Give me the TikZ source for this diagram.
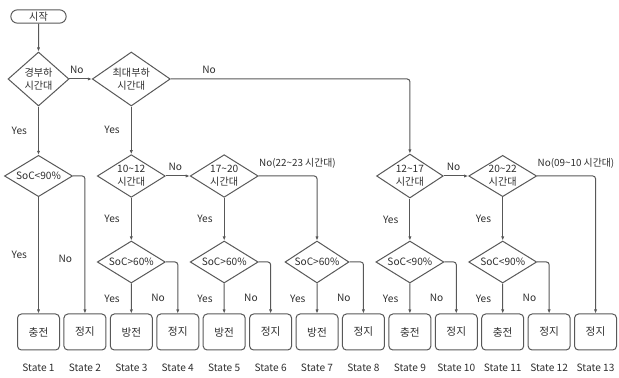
\documentclass[tikz,border=0pt]{standalone}
\usepackage{fontspec}
\setmainfont{Noto Sans CJK KR}
\usetikzlibrary{shapes.geometric,shapes.misc,positioning,arrows.meta}
\definecolor{linegray}{HTML}{585858}
\definecolor{txtgray}{HTML}{2E2E2E}

\begin{document}
\begin{tikzpicture}[
  x=0.75pt,y=-0.75pt,
  font=\fontsize{7.6pt}{9.6pt}\selectfont,
  every node/.append style={text=txtgray},
  dec/.style={diamond,draw=linegray,line width=0.75pt,inner sep=0pt,align=center,aspect=1.6},
  statebox/.style={rectangle,rounded corners=3pt,draw=linegray,line width=0.75pt,
                   minimum width=31.5pt,minimum height=27pt,font=\fontsize{8pt}{9.6pt}\selectfont},
  startbox/.style={rounded rectangle,draw=linegray,line width=0.75pt,
                   minimum width=43.5pt,minimum height=10pt,inner sep=1pt},
  arr/.style={-{Latex[length=3pt,width=2.4pt]},draw=linegray,line width=0.75pt,rounded corners=2pt},
  lbl/.style={font=\fontsize{7.6pt}{9pt}\selectfont},
  longlbl/.style={lbl,pos=0,above right,inner xsep=0pt,yshift=2pt,font=\fontsize{7.4pt}{9pt}\selectfont},
]
\useasboundingbox (0,0) rectangle (619,378);

% === Start and top decisions ===
\node[startbox] (start) at (38.5,16.5) {시작};
\node[dec,aspect=1.1,minimum width=45.75pt,minimum height=40.5pt] (light) at (38.5,79) {경부하\\시간대};
\node[dec,aspect=1.4,minimum width=58.5pt,minimum height=40.5pt] (peak) at (131.3,79) {최대부하\\시간대};

% === Second row ===
\node[dec,minimum width=51pt,minimum height=31pt] (soc1) at (38.5,176) {SoC<90\%};
\node[dec,minimum width=51pt,minimum height=32pt] (t1012) at (131.3,176) {10\textasciitilde12\\시간대};
\node[dec,minimum width=51pt,minimum height=32pt] (t1720) at (224.2,176) {17\textasciitilde20\\시간대};
\node[dec,minimum width=50pt,minimum height=33pt] (t1217) at (409.9,176) {12\textasciitilde17\\시간대};
\node[dec,minimum width=51pt,minimum height=31pt] (t2022) at (502.7,176) {20\textasciitilde22\\시간대};

% === SoC checks ===
\node[dec,minimum width=51pt,minimum height=31.5pt] (socA) at (131.3,262) {SoC>60\%};
\node[dec,minimum width=51pt,minimum height=31.5pt] (socB) at (224.2,262) {SoC>60\%};
\node[dec,minimum width=48pt,minimum height=31.5pt] (socC) at (317,262) {SoC>60\%};
\node[dec,minimum width=51pt,minimum height=31.5pt] (socD) at (409.9,262) {SoC<90\%};
\node[dec,minimum width=51pt,minimum height=31.5pt] (socE) at (502.7,262) {SoC<90\%};

% === States ===
\foreach \txt [count=\i] in {충전,정지,방전,정지,방전,정지,방전,정지,충전,정지,충전,정지,정지}{
  \node[statebox] (b\i) at ({38.5+46.42*(\i-1)},332) {\txt};
  \node[below=6.5pt of b\i] (s\i) {State \i};
}

% Connectors
\draw[arr] (start) -- (light);
\draw[arr] (light) -- node[lbl,pos=0.33,above]{No} (peak);
\draw[arr] (light) -- node[lbl,left=5pt]{Yes} (soc1);
\draw[arr] (peak.east) -| node[lbl,pos=0.08,above]{No} (t1217.north);
\draw[arr] (peak) -- node[lbl,left=5pt]{Yes} (t1012);

\draw[arr] (soc1) -- node[lbl,left=5pt]{Yes} (b1);
\draw[arr] (soc1.east) -| node[lbl,pos=0.8,left=6pt]{No} (b2.north);

\draw[arr] (t1012) -- node[lbl,pos=0.4,above]{No} (t1720);
\draw[arr] (t1012) -- node[lbl,left=5pt]{Yes} (socA);
\draw[arr] (t1720.east) -| node[longlbl]{No(22\textasciitilde23 시간대)} (socC.north);
\draw[arr] (t1720) -- node[lbl,left=5pt]{Yes} (socB);

\draw[arr] (t1217) -- node[lbl,pos=0.4,above]{No} (t2022);
\draw[arr] (t1217) -- node[lbl,left=5pt]{Yes} (socD);
\draw[arr] (t2022.east) -| node[longlbl]{No(09\textasciitilde10 시간대)} (b13.north);
\draw[arr] (t2022) -- node[lbl,left=5pt]{Yes} (socE);

\foreach \s/\y/\n in {socA/3/4,socB/5/6,socC/7/8,socD/9/10,socE/11/12}{
  \draw[arr] (\s) -- node[lbl,left=5pt]{Yes} (b\y);
  \draw[arr] (\s.east) -| node[lbl,pos=0.85,left=6pt]{No} (b\n.north);
}

\end{tikzpicture}
\end{document}
